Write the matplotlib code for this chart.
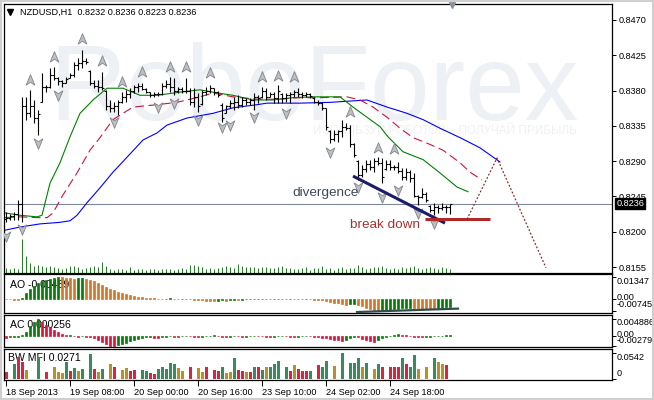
import matplotlib
matplotlib.use("Agg")
import matplotlib.pyplot as plt
from matplotlib.path import Path
from matplotlib.patches import Rectangle
import numpy as np

plt.rcParams["font.family"] = ["Liberation Sans", "DejaVu Sans"]

# NZDUSD H1 bars
opens = [0.8216, 0.8218, 0.8220, 0.8222, 0.8236, 0.8360, 0.8352, 0.8360, 0.8345, 0.8366,
         0.8385, 0.8384, 0.8400, 0.8396, 0.8392, 0.8390, 0.8396, 0.8400, 0.8412, 0.8415,
         0.8418, 0.8405, 0.8390, 0.8386, 0.8385, 0.8380, 0.8360, 0.8358, 0.8360, 0.8366,
         0.8372, 0.8376, 0.8380, 0.8384, 0.8386, 0.8382, 0.8378, 0.8375, 0.8376, 0.8376,
         0.8386, 0.8388, 0.8384, 0.8380, 0.8382, 0.8380, 0.8380, 0.8366, 0.8372, 0.8363,
         0.8378, 0.8380, 0.8383, 0.8378, 0.8362, 0.8352, 0.8360, 0.8364, 0.8366, 0.8362,
         0.8368, 0.8366, 0.8368, 0.8372, 0.8372, 0.8380, 0.8372, 0.8376, 0.8370, 0.8376,
         0.8370, 0.8374, 0.8376, 0.8378, 0.8376, 0.8374, 0.8376, 0.8371, 0.8366, 0.8364,
         0.8358, 0.8329, 0.8318, 0.8325, 0.8328, 0.8334, 0.8332, 0.8312, 0.8290, 0.8272,
         0.8280, 0.8286, 0.8282, 0.8290, 0.8288, 0.8280, 0.8286, 0.8282, 0.8282, 0.8278,
         0.8270, 0.8276, 0.8268, 0.8246, 0.8244, 0.8248, 0.8233, 0.8228, 0.8232, 0.8230,
         0.8232, 0.8232]
highs = [0.8225, 0.8223, 0.8225, 0.8240, 0.8372, 0.8372, 0.8381, 0.8368, 0.8355, 0.8402,
         0.8387, 0.8409, 0.8410, 0.8397, 0.8394, 0.8397, 0.8402, 0.8416, 0.8422, 0.8432,
         0.8422, 0.8406, 0.8394, 0.8394, 0.8404, 0.8381, 0.8368, 0.8365, 0.8368, 0.8378,
         0.8381, 0.8383, 0.8387, 0.8390, 0.8390, 0.8383, 0.8378, 0.8378, 0.8378, 0.8390,
         0.8394, 0.8397, 0.8396, 0.8385, 0.8385, 0.8396, 0.8383, 0.8383, 0.8377, 0.8381,
         0.8385, 0.8387, 0.8383, 0.8379, 0.8364, 0.8362, 0.8368, 0.8372, 0.8374, 0.8372,
         0.8371, 0.8371, 0.8377, 0.8374, 0.8385, 0.8383, 0.8378, 0.8378, 0.8387, 0.8377,
         0.8377, 0.8378, 0.8381, 0.8383, 0.8378, 0.8378, 0.8377, 0.8372, 0.8368, 0.8365,
         0.8358, 0.8330, 0.8330, 0.8330, 0.8343, 0.8339, 0.8336, 0.8313, 0.8291, 0.8285,
         0.8291, 0.8291, 0.8294, 0.8295, 0.8294, 0.8291, 0.8291, 0.8285, 0.8289, 0.8281,
         0.8281, 0.8279, 0.8275, 0.8247, 0.8256, 0.8251, 0.8234, 0.8237, 0.8234, 0.8237,
         0.8234, 0.8236]
lows = [0.8212, 0.8215, 0.8215, 0.8215, 0.8212, 0.8343, 0.8346, 0.8339, 0.8323, 0.8365,
        0.8378, 0.8383, 0.8394, 0.8387, 0.8385, 0.8390, 0.8396, 0.8397, 0.8406, 0.8409,
        0.8414, 0.8387, 0.8383, 0.8378, 0.8381, 0.8355, 0.8353, 0.8353, 0.8349, 0.8364,
        0.8365, 0.8371, 0.8377, 0.8378, 0.8381, 0.8377, 0.8372, 0.8372, 0.8373, 0.8374,
        0.8383, 0.8378, 0.8374, 0.8377, 0.8377, 0.8377, 0.8362, 0.8359, 0.8353, 0.8362,
        0.8374, 0.8377, 0.8374, 0.8372, 0.8340, 0.8351, 0.8358, 0.8355, 0.8358, 0.8359,
        0.8362, 0.8362, 0.8355, 0.8364, 0.8371, 0.8368, 0.8372, 0.8364, 0.8364, 0.8364,
        0.8365, 0.8364, 0.8372, 0.8372, 0.8371, 0.8372, 0.8371, 0.8364, 0.8362, 0.8355,
        0.8330, 0.8313, 0.8316, 0.8314, 0.8321, 0.8330, 0.8308, 0.8295, 0.8266, 0.8270,
        0.8276, 0.8279, 0.8276, 0.8285, 0.8262, 0.8279, 0.8279, 0.8279, 0.8275, 0.8266,
        0.8266, 0.8263, 0.8244, 0.8234, 0.8243, 0.8238, 0.8225, 0.8221, 0.8224, 0.8228,
        0.8224, 0.8223]
closes = [0.8218, 0.8220, 0.8222, 0.8236, 0.8360, 0.8352, 0.8360, 0.8345, 0.8350, 0.8385,
          0.8384, 0.8400, 0.8396, 0.8392, 0.8390, 0.8395, 0.8400, 0.8412, 0.8415, 0.8418,
          0.8416, 0.8390, 0.8386, 0.8385, 0.8383, 0.8360, 0.8358, 0.8360, 0.8366, 0.8372,
          0.8376, 0.8380, 0.8384, 0.8386, 0.8382, 0.8378, 0.8375, 0.8376, 0.8376, 0.8386,
          0.8388, 0.8384, 0.8380, 0.8382, 0.8380, 0.8380, 0.8366, 0.8372, 0.8360, 0.8378,
          0.8380, 0.8383, 0.8378, 0.8374, 0.8345, 0.8360, 0.8364, 0.8366, 0.8362, 0.8368,
          0.8366, 0.8368, 0.8372, 0.8370, 0.8380, 0.8372, 0.8376, 0.8370, 0.8380, 0.8370,
          0.8374, 0.8376, 0.8378, 0.8376, 0.8374, 0.8376, 0.8373, 0.8366, 0.8364, 0.8358,
          0.8334, 0.8318, 0.8325, 0.8328, 0.8334, 0.8332, 0.8312, 0.8298, 0.8272, 0.8280,
          0.8286, 0.8282, 0.8290, 0.8288, 0.8270, 0.8286, 0.8282, 0.8282, 0.8278, 0.8270,
          0.8276, 0.8268, 0.8246, 0.8244, 0.8248, 0.8240, 0.8228, 0.8232, 0.8230, 0.8232,
          0.8232, 0.8236]
volumes = [750, 600, 750, 600, 5100, 2550, 1500, 1050, 1200, 1050,
           900, 1050, 900, 750, 600, 750, 1050, 1050, 900, 600,
           750, 900, 1050, 900, 1650, 1050, 600, 450, 600, 600,
           450, 900, 450, 600, 600, 450, 600, 600, 450, 600,
           600, 600, 450, 600, 750, 600, 1200, 1200, 1050, 900,
           600, 750, 600, 750, 900, 1050, 900, 750, 1350, 1050,
           900, 900, 900, 750, 900, 900, 750, 750, 900, 1050,
           750, 750, 600, 600, 750, 900, 450, 750, 750, 1050,
           600, 750, 450, 750, 900, 600, 750, 750, 1200, 900,
           600, 750, 900, 900, 1050, 750, 600, 750, 600, 900,
           750, 900, 1050, 750, 600, 750, 900, 750, 600, 900,
           750, 600]

# Alligator lines (bar index, price)
jaw_x = [-0.25, 3.5, 8.5, 13.5, 16, 17.75, 20.25, 23.5, 26.75, 30.25, 34.25, 37.75, 40.25, 45.25,
         51.75, 56.75, 62.75, 65.25, 73.5, 81, 90.25, 95.25, 100.25, 104.25, 108.5, 113.5, 118.5, 123.5]
jaw_y = [0.8202, 0.8206, 0.8210, 0.8212, 0.8214, 0.8221, 0.8237, 0.8256, 0.8276, 0.8295, 0.8317, 0.8326,
         0.8336, 0.8345, 0.8351, 0.8358, 0.8362, 0.8364, 0.8364, 0.8365, 0.8368, 0.8359, 0.8351, 0.8343,
         0.8332, 0.8320, 0.8307, 0.8289]
teeth_x = [-0.25, 3.5, 7.75, 10.25, 11.75, 14.25, 17.75, 21, 23.5, 26.75, 31.75, 37.75, 42.75, 48.5,
           51.75, 56.75, 62.75, 67.75, 73.5, 78.5, 85.25, 88.5, 91.75, 95.25, 98.5, 101.75, 105.25,
           109.25, 113.5, 116, 119]
teeth_y = [0.8218, 0.8219, 0.8218, 0.8218, 0.8224, 0.8247, 0.8275, 0.8304, 0.8320, 0.8343, 0.8359,
           0.8362, 0.8365, 0.8372, 0.8377, 0.8372, 0.8369, 0.8369, 0.8371, 0.8371, 0.8372, 0.8368,
           0.8359, 0.8346, 0.8332, 0.8320, 0.8313, 0.8304, 0.8288, 0.8276, 0.8266]
lips_x = [-0.25, 3.5, 7.75, 9, 11, 13.5, 16, 18.5, 21.75, 25.25, 29.25, 33.5, 37.75, 43.5, 48.5,
          52.75, 56.75, 61.75, 66.75, 71.75, 76.75, 83.5, 86.75, 90.25, 93.5, 95.5, 99.25, 104.25,
          108.5, 112.75, 115.5]
lips_y = [0.8224, 0.8221, 0.8219, 0.8221, 0.8262, 0.8288, 0.8321, 0.8351, 0.8368, 0.8383, 0.8383,
          0.8374, 0.8374, 0.8378, 0.8381, 0.8377, 0.8374, 0.8368, 0.8368, 0.8371, 0.8372, 0.8372,
          0.8359, 0.8346, 0.8334, 0.8321, 0.8302, 0.8292, 0.8275, 0.8257, 0.8251]

# fractals
frac_up_x = [6, 12, 19, 24, 29, 34, 41, 45, 51, 64, 68, 72, 86, 93, 97]
frac_up_y = [0.8393, 0.8423, 0.8446, 0.8418, 0.8391, 0.8404, 0.8410, 0.8410, 0.8402,
             0.8397, 0.8399, 0.8397, 0.8353, 0.8307, 0.8306]
frac_dn_x = [0, 4, 8, 13, 27, 38, 42, 48, 54, 56, 62, 70, 81, 88, 94, 98, 103, 107]
frac_dn_y = [0.8195, 0.8204, 0.8313, 0.8374, 0.8340, 0.8359, 0.8364, 0.8343, 0.8334,
             0.8336, 0.8346, 0.8351, 0.8302, 0.8257, 0.8244, 0.8253, 0.8224, 0.8211]

# hand-drawn analysis
trend_x, trend_y = [86.75, 109.75], [0.8271, 0.8211]
break_x, break_y = [104.75, 121], [0.8216, 0.8216]
proj_x, proj_y = [115.25, 122.75, 135], [0.8216, 0.8294, 0.8154]
ao_div_x, ao_div_y = [87.75, 113], [-0.0080, -0.0059]
last_price = 0.8236

ao = [-0.0001, -0.0002, -0.0003, -0.0004, 0.0005, 0.0035, 0.0062, 0.0082, 0.0097, 0.0108,
      0.0117, 0.0125, 0.0131, 0.0135, 0.0134, 0.0132, 0.0129, 0.0126, 0.0127, 0.0129,
      0.0125, 0.0118, 0.0108, 0.0097, 0.0086, 0.0075, 0.0064, 0.0054, 0.0045, 0.0037,
      0.0030, 0.0024, 0.0019, 0.0015, 0.0012, 0.0009, 0.0007, 0.0005, 0.0003, 0.0002,
      0.0003, 0.0004, 0.0003, 0.0002, 0.0003, 0.0001, -0.0001, -0.0003, -0.0005, -0.0008,
      -0.0010, -0.0012, -0.0013, -0.0011, -0.0009, -0.0010, -0.0007, -0.0005, -0.0006, -0.0004,
      -0.0002, 0.0000, 0.0001, 0.0002, 0.0003, 0.0002, 0.0001, 0.0002, 0.0003, 0.0002,
      0.0001, 0.0002, 0.0001, 0.0000, -0.0001, 0.0000, -0.0002, -0.0004, -0.0006, -0.0009,
      -0.0013, -0.0018, -0.0022, -0.0026, -0.0030, -0.0034, -0.0032, -0.0030, -0.0036, -0.0045,
      -0.0054, -0.0062, -0.0069, -0.00745, -0.0072, -0.0068, -0.0065, -0.0062, -0.0060, -0.0058,
      -0.0057, -0.0056, -0.0057, -0.0058, -0.0059, -0.0060, -0.0061, -0.0062, -0.0058, -0.0054,
      -0.0051, -0.00489]
ac = [-0.0005, -0.0003, -0.0002, -0.0001, 0.0004, 0.0013, 0.0028, 0.0040, 0.004886, 0.0040,
      0.0032, 0.0025, 0.0018, 0.0012, 0.0006, 0.0003, 0.0004, 0.0001, -0.0001, 0.0001,
      -0.0001, -0.0003, -0.0005, -0.0010, -0.0016, -0.0022, -0.0027, -0.00279, -0.0026, -0.0022,
      -0.0018, -0.0014, -0.0011, -0.0008, -0.0005, -0.0003, -0.0002, -0.0004, -0.0005, -0.0003,
      -0.0001, 0.0001, -0.0001, -0.0002, 0.0000, 0.0002, 0.0001, -0.0001, -0.0003, -0.0002,
      0.0000, 0.0002, 0.0003, 0.0001, -0.0001, -0.0002, -0.0001, 0.0001, 0.0000, -0.0002,
      -0.0001, 0.0001, 0.0002, 0.0001, 0.0000, -0.0001, -0.0002, -0.0001, 0.0000, 0.0001,
      0.0000, -0.0001, -0.0002, -0.0001, 0.0000, 0.0001, 0.0000, -0.0002, -0.0003, -0.0004,
      -0.0005, -0.0007, -0.0010, -0.0012, -0.0014, -0.0010, -0.0005, -0.0002, -0.0003, -0.0007,
      -0.0011, -0.0014, -0.0016, -0.0011, -0.0006, -0.0002, 0.0002, 0.0004, 0.0005, 0.0004,
      0.0003, 0.0001, -0.0001, -0.0002, -0.0003, -0.0002, -0.0001, 0.0000, 0.0001, 0.0002,
      0.00022, 0.000256]
mfi = [0.015, 0.030, 0.032, 0.047, 0.036, 0.020, 0.024, 0.045, 0.047, 0.047,
       0.015, 0.047, 0.026, 0.015, 0.013, 0.036, 0.017, 0.024, 0.017, 0.022,
       0.040, 0.053, 0.022, 0.015, 0.022, 0.045, 0.032, 0.026, 0.043, 0.020,
       0.024, 0.018, 0.020, 0.020, 0.020, 0.018, 0.013, 0.012, 0.022, 0.026,
       0.022, 0.034, 0.032, 0.024, 0.018, 0.043, 0.026, 0.043, 0.024, 0.015,
       0.026, 0.022, 0.020, 0.017, 0.026, 0.013, 0.015, 0.045, 0.020, 0.017,
       0.015, 0.015, 0.026, 0.026, 0.020, 0.026, 0.026, 0.032, 0.039, 0.026,
       0.026, 0.018, 0.030, 0.022, 0.017, 0.017, 0.017, 0.032, 0.030, 0.025,
       0.039, 0.038, 0.028, 0.024, 0.0542, 0.026, 0.034, 0.034, 0.045, 0.026,
       0.034, 0.036, 0.022, 0.032, 0.026, 0.026, 0.026, 0.026, 0.026, 0.045,
       0.032, 0.026, 0.051, 0.022, 0.026, 0.026, 0.036, 0.045, 0.037, 0.032,
       0.030, 0.0271]
mfi_kind = list("rbgrrybbgbrbyyygrgygbgrygbyrbyyrrbggrrgggggyybrbyyrbrrgyygrryrgrgyggg"
                "bgryrrrgbrggbybgbgggygbygrbrrrgrggybybgyyrb")

ax_ticks = [0.8470, 0.8425, 0.8380, 0.8335, 0.8290, 0.8245, 0.8200, 0.8155]
x_tick_bars = [0, 16, 32, 48, 64, 80, 96]
x_tick_labels = ["18 Sep 2013", "19 Sep 08:00", "20 Sep 00:00", "20 Sep 16:00",
                 "23 Sep 10:00", "24 Sep 02:00", "24 Sep 18:00"]

n = len(closes)
idx = np.arange(n)
W, H = 654, 400
FS = 6.6


def box(l, t, r, b):
    return [l / W, 1 - b / H, (r - l) / W, (b - t) / H]


fig = plt.figure(figsize=(6.54, 4.0), dpi=100)
fig.patch.set_facecolor("white")
ax = fig.add_axes(box(4, 4, 612, 273))
ax_ao = fig.add_axes(box(4, 274, 612, 313), sharex=ax)
ax_ac = fig.add_axes(box(4, 315, 612, 347), sharex=ax)
ax_mfi = fig.add_axes(box(4, 349, 612, 380), sharex=ax)

for a in (ax, ax_ao, ax_ac, ax_mfi):
    for s in a.spines.values():
        s.set_color("black")
        s.set_linewidth(0.9)
    a.yaxis.tick_right()
    a.tick_params(axis="y", direction="out", length=3, width=0.7, pad=1.5, labelsize=FS)
    a.tick_params(axis="x", bottom=False, labelbottom=False)
ax.set_xlim(-0.5, 151.5)

# ---- main price window ----
ax.set_ylim(0.81474, 0.84904)
ax.set_yticks(ax_ticks)
ax.set_yticklabels([f"{t:.4f}" for t in ax_ticks])

ax.text(0.075, 0.5688, "RoboForex", transform=ax.transAxes, fontsize=77,
        color="#edf0f4", va="baseline", ha="left", zorder=0)
ax.text(0.508, 0.515, "ИСПОЛЬЗУЙ РОБОТОВ – ПОЛУЧАЙ ПРИБЫЛЬ", transform=ax.transAxes,
        fontsize=8.5, color="#eef1f5", va="baseline", ha="left", zorder=0)

ax.vlines(idx, 0, np.array(volumes) / 40350, transform=ax.get_xaxis_transform(),
          color="#1e7b1e", lw=0.7, zorder=1)
ax.axhline(last_price, color="#7b8a9a", lw=0.8, zorder=1)

ax.plot(jaw_x, jaw_y, color="#0000ff", lw=0.8, zorder=2)
ax.plot(teeth_x, teeth_y, color="#c8143c", lw=0.8, ls=(0, (8, 4)), zorder=2)
ax.plot(lips_x, lips_y, color="#008000", lw=0.8, zorder=2)

ax.vlines(idx, lows, highs, color="black", lw=0.8, zorder=3)
ax.hlines(opens, idx - 0.45, idx, color="black", lw=0.8, zorder=3)
ax.hlines(closes, idx, idx + 0.45, color="black", lw=0.8, zorder=3)

arrow = [(0, 1), (0.75, -0.8), (0, -0.3), (-0.75, -0.8), (0, 1)]
codes = [Path.MOVETO, Path.LINETO, Path.LINETO, Path.LINETO, Path.CLOSEPOLY]
up_mark = Path(arrow, codes)
dn_mark = Path([(x, -y) for x, y in arrow], codes)
ax.scatter(frac_up_x, frac_up_y, marker=up_mark, s=70, c="#bcc0c5",
           edgecolors="#80858b", linewidths=0.6, zorder=4)
ax.scatter(frac_dn_x, frac_dn_y, marker=dn_mark, s=70, c="#bcc0c5",
           edgecolors="#80858b", linewidths=0.6, zorder=4)

ax.plot(trend_x, trend_y, color="#1c1c6b", lw=2.2, solid_capstyle="butt", zorder=5)
ax.plot(break_x, break_y, color="#b02828", lw=2.2, solid_capstyle="butt", zorder=5)
ax.plot(proj_x, proj_y, color="#8b2a2a", lw=0.9, ls=(0, (1.5, 1.5)), zorder=5)
ax.text(71.5, 0.8250, "divergence", color="#3c4a5a", fontsize=9.7, va="center", ha="left", zorder=5)
ax.text(86, 0.8208, "break down", color="#a83030", fontsize=9.7, va="center", ha="left", zorder=5)

ax.plot([0.0099], [0.970], marker="v", color="black", ms=4, transform=ax.transAxes, zorder=6)
ax.text(0.026, 0.970, "NZDUSD,H1  0.8232 0.8236 0.8223 0.8236", transform=ax.transAxes,
        fontsize=FS, va="center", ha="left", zorder=6)
ax.plot([111.5], [0.995], marker="v", color="#8a9099", ms=5,
        transform=ax.get_xaxis_transform(), clip_on=False, zorder=6)
ax.annotate(f"{last_price:.4f}", xy=(1, last_price), xycoords=ax.get_yaxis_transform(),
            xytext=(3, 0), textcoords="offset points", va="center", ha="left",
            color="white", fontsize=FS, annotation_clip=False,
            bbox=dict(boxstyle="square,pad=0.15", fc="black", ec="black"))


def side_labels(a, texts, fracs):
    a.set_yticklabels([])
    for t, f in zip(texts, fracs):
        a.text(1.008, f, t, transform=a.transAxes, fontsize=FS, va="center",
               ha="left", clip_on=False)


# ---- AO ----
ao_col = ["#d2782d"] + ["#0a7a0a" if ao[i] > ao[i - 1] else "#d2782d" for i in range(1, n)]
ax_ao.set_ylim(-0.0086, 0.0154)
ax_ao.text(0.0099, 0.72, "AO -0.00489", transform=ax_ao.transAxes, fontsize=FS + 1,
           va="center", ha="left", zorder=0)
ax_ao.bar(idx, ao, width=0.62, color=ao_col, edgecolor=ao_col, linewidth=0.5, zorder=2)
ax_ao.plot(ao_div_x, ao_div_y, color="#2f4f4f", lw=1.6, zorder=3)
ax_ao.set_yticks([0.01347, 0.0, -0.00745])
side_labels(ax_ao, ["0.01347", "0.00", "-0.00745"], [0.80, 0.39, 0.21])

# ---- AC ----
ac_col = ["#dc143c"] + ["#0a7a0a" if ac[i] > ac[i - 1] else "#dc143c" for i in range(1, n)]
ax_ac.set_ylim(-0.00307, 0.00603)
ax_ac.text(0.0099, 0.69, "AC 0.000256", transform=ax_ac.transAxes, fontsize=FS + 1,
           va="center", ha="left", zorder=0)
ax_ac.bar(idx, ac, width=0.62, color=ac_col, edgecolor=ac_col, linewidth=0.5, zorder=2)
ax_ac.set_yticks([0.004886, 0.0, -0.00279])
side_labels(ax_ac, ["0.004886", "0.00", "-0.002790"], [0.78, 0.40, 0.19])

# ---- BW MFI ----
kind_col = {"g": "#3a8a5e", "r": "#d22846", "y": "#b8902a", "b": "#1a1a8c"}
ax_mfi.set_ylim(-0.0015, 0.0636)
ax_mfi.text(0.0066, 0.70, "BW MFI 0.0271", transform=ax_mfi.transAxes, fontsize=FS + 1,
            va="center", ha="left", zorder=0)
wid = [0.2 if k == "b" else 0.75 for k in mfi_kind]
ax_mfi.bar(idx, mfi, width=wid, color=[kind_col[k] for k in mfi_kind], zorder=2)
ax_mfi.set_yticks([0.0542, 0.0])
side_labels(ax_mfi, ["0.0542", "0"], [0.74, 0.22])

ax_mfi.set_xticks(x_tick_bars)
ax_mfi.set_xticklabels(x_tick_labels, ha="left")
ax_mfi.tick_params(axis="x", bottom=True, labelbottom=True, direction="out", length=4,
                   width=0.7, pad=1.5, labelsize=FS)
for a in (ax, ax_ao, ax_ac):
    a.tick_params(axis="x", bottom=False, labelbottom=False)

fig.patches.append(Rectangle((0, 0), 1, 1, transform=fig.transFigure, fill=False,
                             ec="#cfcfcf", lw=3))

fig.savefig("out.png", dpi=100)
